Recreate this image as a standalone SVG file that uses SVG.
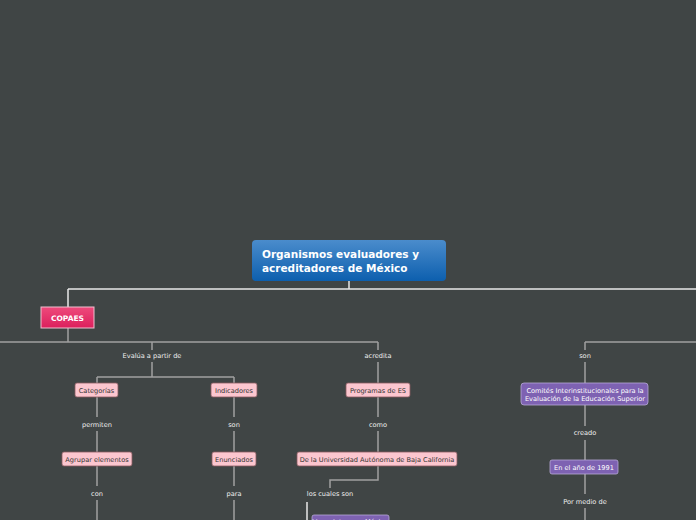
<svg xmlns="http://www.w3.org/2000/svg" width="696" height="520" viewBox="0 0 696 520">
<defs>
<linearGradient id="bl" x1="0" y1="0" x2="0" y2="1"><stop offset="0" stop-color="#4a8ccc"/><stop offset="1" stop-color="#0d5fae"/></linearGradient>
<linearGradient id="pk" x1="0" y1="0" x2="0" y2="1"><stop offset="0" stop-color="#ee4a7c"/><stop offset="1" stop-color="#dc1f5c"/></linearGradient>
</defs>
<style>
text{font-family:"DejaVu Sans",Verdana,sans-serif;font-size:6.6px;fill:#eeeeee;text-anchor:middle}
.pink rect{fill:#fcc6cf;stroke:#8a5a60;stroke-width:0.8}
.pink text{fill:#333}
.pur rect{fill:#7e62b2;stroke:#b8a8d8;stroke-width:0.8}
.pur text{fill:#fff}
.c{stroke:#a0a0a0;stroke-width:1.5;fill:none}
.w{stroke:#e8e8e8;stroke-width:1.5;fill:none}
</style>
<rect width="696" height="520" fill="#404545"/>
<g id="connectors">
<path class="w" d="M349 281V289M68 289H696M68 289V307"/>
<path class="c" d="M68 328V342M0 342H378M152 342V350M378 342V350M585 342H696M585 342V350"/>
<path class="c" d="M152 362V377M97 377H234M97 377V383M234 377V383M378 362V383"/>
<path class="c" d="M97 397V417M97 431V452M97 466V486M97 500V520"/>
<path class="c" d="M234 397V417M234 431V452M234 466V486M234 500V520"/>
<path class="c" d="M378 397V417M378 431V452M378 466V480H330V488"/>
<path class="w" d="M307 502V520"/>
<path class="c" d="M585 362V383M585 405V426M585 440V460M585 474V494M585 508V520"/>
</g>
<g id="root"><rect x="252" y="240" width="194" height="41" rx="4" fill="url(#bl)"/>
<text x="262" y="258" style="font-size:10.5px;font-weight:bold;text-anchor:start;fill:#fff">Organismos evaluadores y</text>
<text x="262" y="272" style="font-size:10.5px;font-weight:bold;text-anchor:start;fill:#fff">acreditadores de México</text></g>
<g id="copaes"><rect x="41" y="307" width="53" height="21" fill="url(#pk)" stroke="#f0c0d0" stroke-width="1"/><text x="67.5" y="321" style="font-weight:bold;font-size:7.5px;fill:#fff">COPAES</text></g>
<g id="l1"><text x="152" y="358">Evalúa a partir de</text></g>
<g id="l2"><text x="378" y="358">acredita</text></g>
<g id="l3"><text x="585" y="358">son</text></g>
<g id="n1" class="pink"><rect x="75" y="383" width="43" height="14" rx="2"/><text x="96.5" y="393">Categorías</text></g>
<g id="n2" class="pink"><rect x="211" y="383" width="46" height="14" rx="2"/><text x="234" y="393">Indicadores</text></g>
<g id="n3" class="pink"><rect x="346" y="383" width="64" height="14" rx="2"/><text x="378" y="393">Programas de ES</text></g>
<g id="l4"><text x="97" y="427">permiten</text></g>
<g id="l5"><text x="234" y="427">son</text></g>
<g id="l6"><text x="378" y="427">como</text></g>
<g id="n4" class="pink"><rect x="62" y="452" width="70" height="14" rx="2"/><text x="97" y="462">Agrupar elementos</text></g>
<g id="n5" class="pink"><rect x="212" y="452" width="44" height="14" rx="2"/><text x="234" y="462">Enunciados</text></g>
<g id="n6" class="pink"><rect x="297" y="452" width="160" height="14" rx="2"/><text x="377" y="462">De la Universidad Autónoma de Baja California</text></g>
<g id="l7"><text x="97" y="496">con</text></g>
<g id="l8"><text x="234" y="496">para</text></g>
<g id="l9"><text x="330" y="496">los cuales son</text></g>
<g id="n7" class="pur"><rect x="312" y="515" width="77" height="14" rx="2"/><text x="350" y="524">Licenciatura en México</text></g>
<g id="n8" class="pur"><rect x="521" y="383" width="127" height="22" rx="3"/><text x="585" y="393">Comités Interinstitucionales para la</text><text x="585" y="401">Evaluación de la Educación Superior</text></g>
<g id="l10"><text x="585" y="435">creado</text></g>
<g id="n9" class="pur"><rect x="550" y="460" width="68" height="14" rx="2"/><text x="584" y="470">En el año de 1991</text></g>
<g id="l11"><text x="585" y="504">Por medio de</text></g>
</svg>
